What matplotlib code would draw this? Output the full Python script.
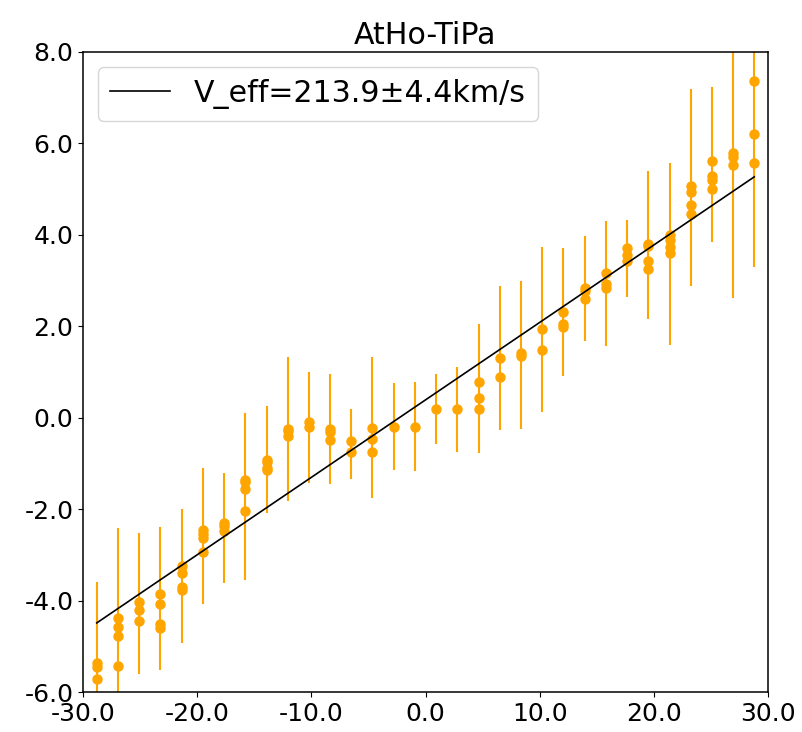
import matplotlib
matplotlib.use("Agg")
import matplotlib.pyplot as plt
from matplotlib.ticker import FormatStrFormatter

plt.rcParams['axes.unicode_minus'] = False
plt.rcParams['font.size'] = 18

# bin centres (x) and the span of each bin's error bar
x_bins = [-28.80, -26.91, -25.07, -23.23, -21.36, -19.49, -17.65, -15.78,
          -13.91, -12.04, -10.20, -8.34, -6.50, -4.66, -2.79, -0.95,
          0.92, 2.78, 4.69, 6.52, 8.36, 10.23, 12.07, 13.94,
          15.78, 17.68, 19.51, 21.39, 23.23, 25.07, 26.96, 28.80]
err_low = [-7.4, -6.6, -5.61, -5.52, -4.92, -4.08, -3.62, -3.55,
           -2.09, -1.82, -1.42, -1.45, -1.33, -1.75, -1.14, -1.17,
           -0.58, -0.74, -0.78, -0.27, -0.25, 0.12, 0.92, 1.68,
           1.57, 2.63, 2.15, 1.60, 2.89, 3.85, 2.61, 3.30]
err_high = [-3.59, -2.41, -2.52, -2.38, -2.00, -1.11, -1.22, 0.10,
            0.26, 1.33, 0.99, 0.95, 0.19, 1.32, 0.77, 0.79,
            0.96, 1.12, 2.04, 2.88, 3.00, 3.74, 3.71, 3.97,
            4.31, 4.32, 5.40, 5.58, 7.19, 7.23, 8.9, 9.4]
# measured delays in each bin
y_points = [
    [-5.37, -5.46, -5.72],
    [-4.39, -4.58, -4.77, -5.42],
    [-4.03, -4.21, -4.44],
    [-3.86, -4.08, -4.52, -4.59],
    [-3.24, -3.40, -3.71, -3.76],
    [-2.46, -2.54, -2.63, -2.93],
    [-2.30, -2.37, -2.47],
    [-1.36, -1.41, -1.55, -2.04],
    [-0.93, -0.97, -1.09, -1.14],
    [-0.24, -0.29, -0.41],
    [-0.09, -0.21],
    [-0.25, -0.31, -0.49],
    [-0.52, -0.75],
    [-0.22, -0.47, -0.74],
    [-0.20],
    [-0.20],
    [0.18],
    [0.19],
    [0.79, 0.43, 0.18],
    [1.31, 0.89],
    [1.42, 1.36],
    [1.93, 1.48],
    [2.31, 2.06, 1.99],
    [2.83, 2.78, 2.60],
    [3.17, 2.92, 2.84],
    [3.71, 3.56, 3.43],
    [3.81, 3.76, 3.43, 3.25],
    [4.00, 3.89, 3.74, 3.60],
    [5.07, 4.94, 4.65, 4.45],
    [5.62, 5.29, 5.20, 5.00],
    [5.78, 5.70, 5.53],
    [7.36, 6.21, 5.58],
]

fit_slope = 0.1694
fit_intercept = 0.39
fit_label = "V_eff=213.9\u00b14.4km/s"

fig = plt.figure(figsize=(8.03, 7.32), dpi=100)
ax = fig.add_axes([0.1034, 0.0546, 0.8530, 0.8744])

ax.vlines(x_bins, err_low, err_high, color='orange', linewidth=1.5, zorder=1)
for xb, ys in zip(x_bins, y_points):
    ax.plot([xb] * len(ys), ys, 'o', color='orange', markersize=6.5, zorder=2)

xfit = [x_bins[0], x_bins[-1]]
yfit = [fit_slope * v + fit_intercept for v in xfit]
ax.plot(xfit, yfit, color='black', linewidth=1.2, label=fit_label, zorder=3)

ax.set_xlim(-30, 30)
ax.set_ylim(-6, 8)
ax.set_xticks([-30, -20, -10, 0, 10, 20, 30])
ax.set_yticks([-6, -4, -2, 0, 2, 4, 6, 8])
ax.xaxis.set_major_formatter(FormatStrFormatter('%.1f'))
ax.yaxis.set_major_formatter(FormatStrFormatter('%.1f'))
for s in ax.spines.values():
    s.set_linewidth(1.1)

ax.set_title("AtHo-TiPa", fontsize=21.6)
ax.legend(loc='upper left', fontsize=21.6)

fig.savefig("out.png", dpi=100)
